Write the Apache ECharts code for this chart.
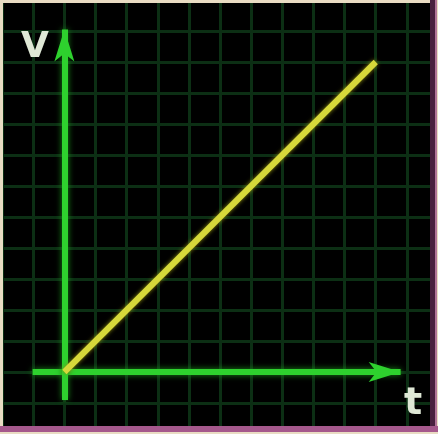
<!DOCTYPE html>
<html>
<head>
<meta charset="UTF-8">
<title>V-t</title>
<script src="https://cdn.jsdelivr.net/npm/echarts@6/dist/echarts.min.js"></script>
<style>
	html, body { margin: 0; padding: 0; background: #e9dcc3; }
	#main { width: 438px; height: 434px; }
</style>
</head>
<body>
<div id="main"></div>
<script>
	// data
	var tValues = [0, 10];
	var vValues = [0, 10];
	var xAxisArrow = [[-1.02, 0], [10.8, 0]];   // horizontal axis (t)
	var yAxisArrow = [[0, -0.9], [0, 11.05]];   // vertical axis (V)
	var xName = 't';
	var yName = 'V';

	var lineData = tValues.map(function(t, i) { return [t, vValues[i]]; });

	var chart = echarts.init(document.getElementById('main'));
	var gridStyle = { color: '#0c2f14', width: 3 };
	var option = {
		animation: false,
		backgroundColor: '#000',
		grid: { left: 2.1, top: -4.8, width: 440.3, height: 439.6 },
		xAxis: {
			type: 'value', min: -2, max: 12, interval: 1,
			axisLine: { show: false }, axisTick: { show: false }, axisLabel: { show: false },
			splitLine: { show: true, lineStyle: gridStyle }
		},
		yAxis: {
			type: 'value', min: -2, max: 12, interval: 1,
			axisLine: { show: false }, axisTick: { show: false }, axisLabel: { show: false },
			splitLine: { show: true, lineStyle: gridStyle }
		},
		series: [{
			name: 'axes',
			type: 'line',
			data: [],
			silent: true,
			markLine: {
				silent: true,
				symbol: ['none', 'arrow'],
				symbolSize: [15, 32],
				label: { show: false },
				lineStyle: { color: '#2ed12e', width: 6, type: 'solid', shadowBlur: 6, shadowColor: '#1a8a1a' },
				emphasis: { disabled: true },
				data: [
					[{ coord: xAxisArrow[0] }, { coord: xAxisArrow[1] }],
					[{ coord: yAxisArrow[0] }, { coord: yAxisArrow[1] }]
				]
			}
		}, {
			name: 'v',
			type: 'line',
			data: lineData,
			symbol: 'none',
			z: 5,
			lineStyle: { color: '#d6d83a', width: 6, shadowBlur: 4, shadowColor: '#8a8a10' }
		}],
		graphic: [
			{ type: 'text', left: 21, top: 30, z: 50, style: { text: yName, fill: '#dfe8d6', font: 'bold 36px "DejaVu Sans"', shadowBlur: 5, shadowColor: '#889' } },
			{ type: 'text', left: 404, top: 385, z: 50, style: { text: xName, fill: '#dfe8d6', font: 'bold 38px "DejaVu Sans"', shadowBlur: 5, shadowColor: '#889' } },
			// frame
			{ type: 'rect', left: 0, top: 0, z: 100, shape: { width: 438, height: 3 }, style: { fill: '#e9dcc3' } },
			{ type: 'rect', left: 0, top: 0, z: 100, shape: { width: 3, height: 434 }, style: { fill: '#e9dcc3' } },
			{ type: 'rect', left: 430, top: 0, z: 100, shape: { width: 5, height: 434 }, style: { fill: '#4a2040' } },
			{ type: 'rect', left: 435, top: 0, z: 100, shape: { width: 2, height: 434 }, style: { fill: '#b27498' } },
			{ type: 'rect', left: 437, top: 0, z: 100, shape: { width: 1, height: 434 }, style: { fill: '#e9dcc3' } },
			{ type: 'rect', left: 0, top: 426, z: 100, shape: { width: 438, height: 6 }, style: { fill: '#a5588c' } },
			{ type: 'rect', left: 0, top: 432, z: 100, shape: { width: 438, height: 2 }, style: { fill: '#e9dcc3' } }
		]
	};
	chart.setOption(option);
</script>
</body>
</html>
